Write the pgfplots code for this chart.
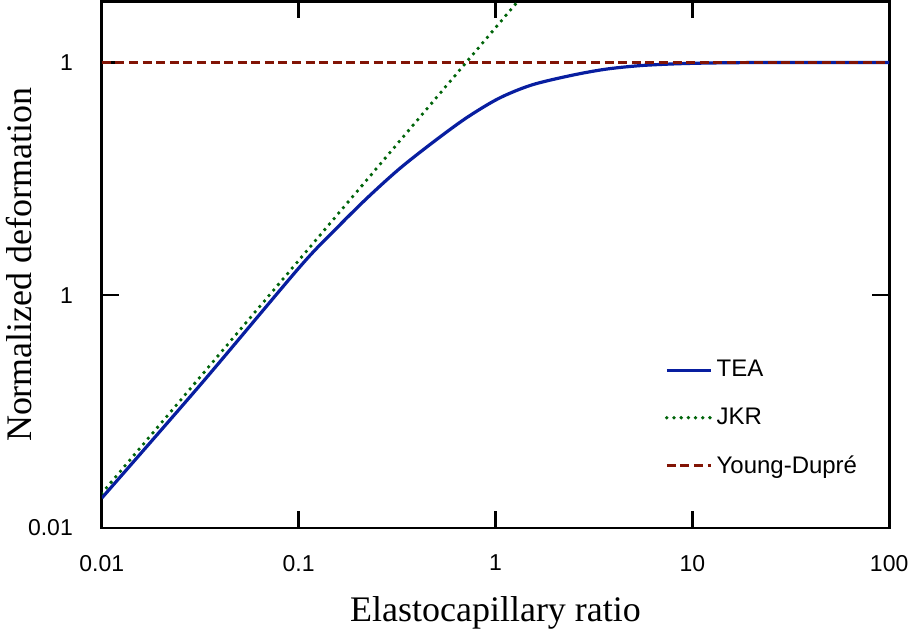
\documentclass[border=0pt]{standalone}
\usepackage{fontspec}
\setmainfont{Liberation Sans}
\newfontfamily\seriffont{Liberation Serif}
\usepackage{pgfplots}
\pgfplotsset{compat=1.18}
\definecolor{teablue}{RGB}{8,30,160}
\definecolor{jkrgreen}{RGB}{0,100,10}
\definecolor{ydred}{RGB}{130,20,5}

\begin{document}
\begin{tikzpicture}
\begin{axis}[
  scale only axis,
  width=394pt, height=263.5pt,
  xmode=log, ymode=log,
  xmin=0.01, xmax=100,
  ymin=0.01, ymax=1.83,
  xtick={0.01,0.1,1,10,100},
  xticklabels={0.01,0.1,1,10,100},
  ytick={0.01,0.1,1},
  yticklabels={0.01,1,1},
  xminorticks=false, yminorticks=false,
  xtick pos=both, ytick pos=both,
  tick align=inside,
  major tick length=8.5pt,
  /pgf/number format/assume math mode=true,
  tick label style={font=\fontsize{11.5}{13}\selectfont},
  xticklabel style={yshift=-10pt},
  yticklabel style={xshift=-11pt},
  axis line style={line width=1.4pt},
  tick style={line width=1.2pt, black},
  xlabel={\seriffont Elastocapillary ratio},
  ylabel={\seriffont Normalized deformation},
  label style={font=\fontsize{18}{20}\selectfont},
  xlabel style={yshift=-6pt},
  ylabel style={yshift=-9pt},
  legend style={at={(0.707,0.334)}, anchor=north west, draw=none, fill=none,
    font=\fontsize{12}{14}\selectfont, row sep=10pt},
  legend cell align=left,
  legend image code/.code={\draw[#1] (0pt,0pt) -- (22pt,0pt);},
]
\addplot[teablue, line width=1.6pt, smooth, tension=0.5] coordinates {
  (0.01,0.01345) (0.0322,0.0419) (0.1,0.1306) (0.147,0.1845)
  (0.219,0.258) (0.322,0.347) (0.473,0.449)
  (0.705,0.575) (1.036,0.700) (1.524,0.800) (2.43,0.880)
  (3.61,0.935) (5.32,0.968) (7.82,0.985) (11.6,0.994)
  (20,0.999) (50,1.0) (100,1.0)
};
\addlegendentry{TEA}
\addplot[jkrgreen, line width=1.9pt, line cap=round, dash pattern=on 0pt off 3.6pt] coordinates {
  (0.01,0.0141) (0.1,0.141) (1,1.41) (1.3,1.833)
};
\addlegendentry{JKR}
\addplot[ydred, line width=1.6pt, dash pattern=on 4.5pt off 2.3pt] coordinates {
  (0.01,1) (100,1)
};
\addlegendentry{Young-Dupré}
\end{axis}
\end{tikzpicture}
\end{document}
